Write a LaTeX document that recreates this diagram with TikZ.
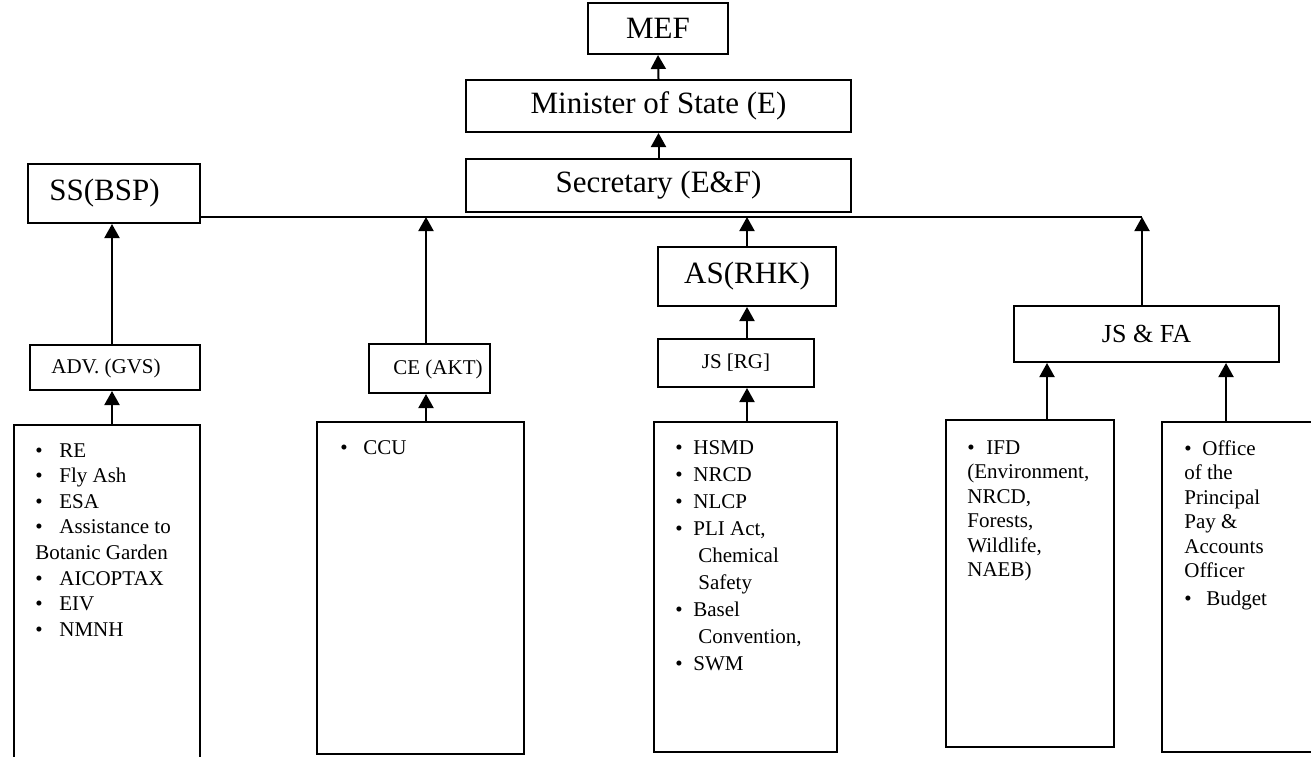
\documentclass[tikz,border=0pt]{standalone}
\usepackage{fontspec}
\setmainfont{Liberation Serif}
\usetikzlibrary{arrows.meta}
\newcommand{\bl}[1][12pt]{\makebox[#1][l]{\textbullet}}
\begin{document}
\begin{tikzpicture}[x=0.5pt,y=-0.5pt,
  box/.style={draw,line width=1pt,inner sep=0pt,rectangle},
  big/.style={font=\fontsize{15.5}{18}\selectfont},
  small/.style={font=\fontsize{10.5}{12.6}\selectfont},
  arr/.style={line width=1pt,-{Triangle[width=7.5pt,length=7pt]}},
  lst/.style={anchor=north west,inner sep=0pt,align=left}]
\useasboundingbox (0,0) rectangle (1311,756);
\clip (0,0) rectangle (1311,756);

% top chain
\node[box,big,minimum width=70pt,minimum height=25.5pt] (mef) at (658,28.5) {MEF};
\node[box,big,minimum width=192.5pt,minimum height=26pt] (minister) at (658.5,106) {Minister of State (E)};
\node[box,big,minimum width=192.5pt,minimum height=26.5pt] (secretary) at (658.5,185.5) {Secretary (E\&F)};

% SS(BSP) branch
\node[box,minimum width=86pt,minimum height=29.5pt] (ss) at (114,193.5) {};
\node[big,anchor=west,inner sep=0pt] (ssT) at (49,193.5) {SS(BSP)};
\node[box,minimum width=85pt,minimum height=22.5pt] (adv) at (115,367.5) {};
\node[small,anchor=west,inner sep=0pt] (advT) at (51,368) {ADV. (GVS)};
\node[box,minimum width=93pt,minimum height=172.5pt] (list1) at (107,597.5) {};
\node[lst,font=\fontsize{10.5}{12.8}\selectfont] (list1T) at (35,443)
  {\bl RE\\\bl Fly Ash\\\bl ESA\\\bl Assistance to\\Botanic Garden\\\bl AICOPTAX\\\bl EIV\\\bl NMNH};

% CE branch
\node[box,minimum width=60.5pt,minimum height=24.5pt] (ce) at (429.5,368.5) {};
\node[small,anchor=west,inner sep=0pt] (ceT) at (393,369) {CE (AKT)};
\node[box,minimum width=103.5pt,minimum height=166pt] (ccu) at (420.5,588) {};
\node[lst,small] (ccuT) at (340,440) {\bl[11.5pt]CCU};

% AS branch
\node[box,big,minimum width=89pt,minimum height=29.5pt] (as) at (747,276.5) {AS(RHK)};
\node[box,small,minimum width=78pt,minimum height=24pt] (js) at (736,363) {JS [RG]};
\node[box,minimum width=91.5pt,minimum height=165pt] (hsmd) at (745.5,587) {};
\node[lst,font=\fontsize{10.5}{13.5}\selectfont] (hsmdT) at (675,440)
  {\bl[9pt]HSMD\\\bl[9pt]NRCD\\\bl[9pt]NLCP\\\bl[9pt]PLI Act,\\\hspace*{11.5pt}Chemical\\\hspace*{11.5pt}Safety\\\bl[9pt]Basel\\\hspace*{11.5pt}Convention,\\\bl[9pt]SWM};

% JS & FA branch
\node[box,font=\fontsize{13}{15}\selectfont,minimum width=132.5pt,minimum height=28pt] (jsfa) at (1146.5,334) {JS \& FA};
\node[box,minimum width=84pt,minimum height=163.5pt] (ifd) at (1030,583.5) {};
\node[lst,font=\fontsize{10.5}{12.25}\selectfont] (ifdT) at (967,440)
  {\bl[9.5pt]IFD\\(Environment,\\NRCD,\\Forests,\\Wildlife,\\NAEB)};
\node[box,minimum width=89pt,minimum height=165pt] (office) at (1251,587) {};
\node[lst,font=\fontsize{10.5}{12.25}\selectfont] (officeT) at (1184,440)
  {\bl[9pt]Office\\of the\\Principal\\Pay \&\\Accounts\\Officer\\[1.5pt]\bl[11pt]Budget};

% bus line
\coordinate (busL) at (200,217);
\coordinate (busR) at (1142,217);
\draw[line width=1pt] (busL) -- (busR);

% arrows
\draw[arr] (minister.north) -- (mef.south);
\draw[arr] (secretary.north) -- (minister.south);
\draw[arr] ([xshift=-1.5pt]adv.north) -- ([xshift=-1.5pt]adv.north |- ss.south);
\draw[arr] ([xshift=-1.5pt]adv.south |- list1.north) -- ([xshift=-1.5pt]adv.south);
\draw[arr] ([xshift=-1.75pt]ce.north) -- ([xshift=-1.75pt]ce.north |- busL);
\draw[arr] ([xshift=-1.75pt]ce.south |- ccu.north) -- ([xshift=-1.75pt]ce.south);
\draw[arr] (as.north) -- (as.north |- busL);
\draw[arr] (as.south |- js.north) -- (as.south);
\draw[arr] (as.south |- hsmd.north) -- (as.south |- js.south);
\draw[arr] (jsfa.north -| busR) -- (busR);
\draw[arr] ([xshift=8.5pt]ifd.north) -- ([xshift=8.5pt]ifd.north |- jsfa.south);
\draw[arr] ([xshift=-12.5pt]office.north) -- ([xshift=-12.5pt]office.north |- jsfa.south);
\end{tikzpicture}
\end{document}
